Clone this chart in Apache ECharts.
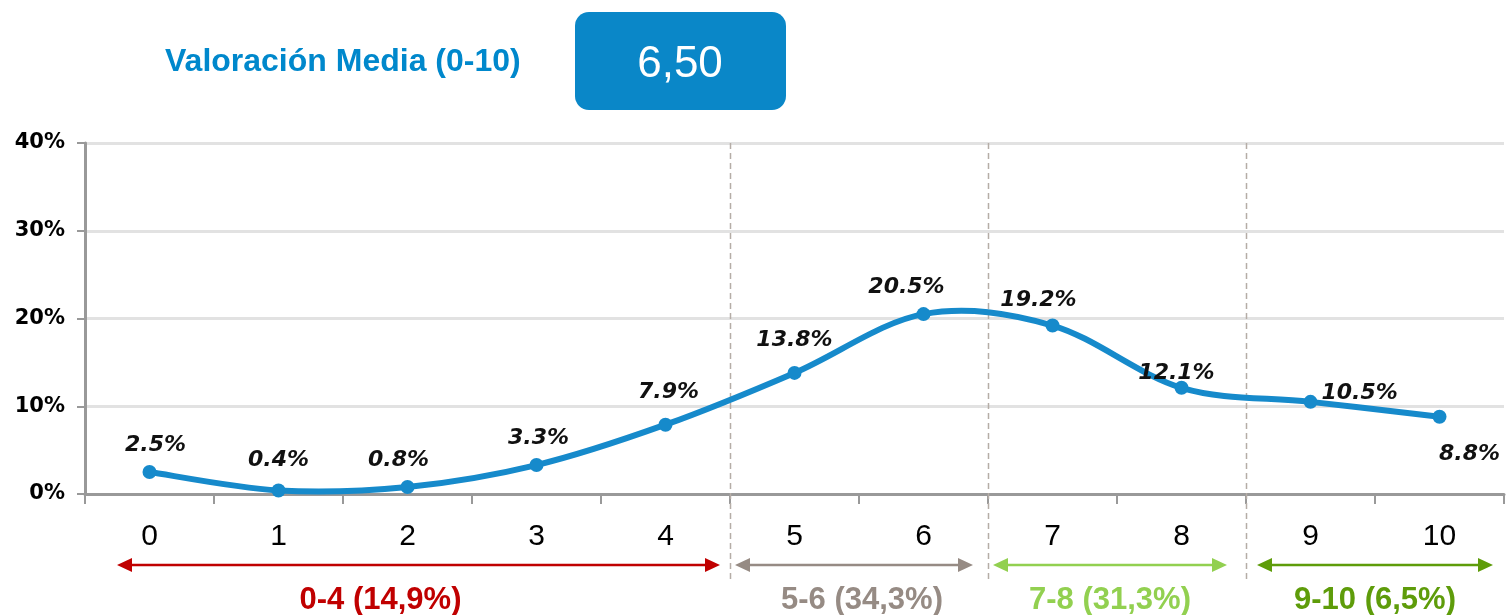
<!DOCTYPE html>
<html>
<head>
<meta charset="utf-8">
<script src="https://cdn.jsdelivr.net/npm/echarts@6/dist/echarts.min.js"></script>
<style>
html,body{margin:0;padding:0;background:#fff;}
#chart{width:1508px;height:615px;}
</style>
</head>
<body>
<div id="chart"></div>
<script>
// ---- data ----
const categories = ['0','1','2','3','4','5','6','7','8','9','10'];
const values = [2.5, 0.4, 0.8, 3.3, 7.9, 13.8, 20.5, 19.2, 12.1, 10.5, 8.8];
const yTicks = [0, 10, 20, 30, 40];
const titleText = 'Valoración Media (0-10)';
const meanText = '6,50';
const groupLabels = ['0-4 (14,9%)', '5-6 (34,3%)', '7-8 (31,3%)', '9-10 (6,5%)'];
const groupRanges = [[0, 4], [5, 6], [7, 8], [9, 10]];

// ---- styles ----
const groupColors = ['#C00000', '#968B84', '#92D050', '#5E9C0A'];
const arrowInsets = [[32, 10], [5, 15], [5, 19], [11, 11]];
const groupLabelShift = [-27, 3, -7, 0];
const labelPlacement = [
  {position: 'top', offset: [6, 0]},
  {position: 'top', offset: [0, -3]},
  {position: 'top', offset: [-9, 0]},
  {position: 'top', offset: [2, 0]},
  {position: 'top', offset: [3, -5]},
  {position: 'top', offset: [0, -6]},
  {position: 'top', offset: [-17, 0]},
  {position: 'top', offset: [-14, 2]},
  {position: 'top', offset: [-5, 12]},
  {position: 'right', offset: [-5, -9]},
  {position: 'bottom', offset: [30, 11]}
];
const lineColor = '#168ACB';

const chart = echarts.init(document.getElementById('chart'), null, {renderer: 'canvas'});

const seriesData = values.map((v, i) => ({
  value: v,
  label: {position: labelPlacement[i].position, offset: labelPlacement[i].offset}
}));
const curveData = values.map((v, i) => [i, v]);
const n = values.length;

// Catmull-Rom style smoothing (as in spreadsheet smoothed lines), drawn via axis coordinates
function renderCurve(params, api) {
  const i = params.dataIndex;
  if (i >= n - 1) return null;
  const p = k => {
    const kk = Math.max(0, Math.min(n - 1, k));
    return api.coord([api.value(0, kk), api.value(1, kk)]);
  };
  const p0 = p(i - 1), p1 = p(i), p2 = p(i + 1), p3 = p(i + 2);
  const t = 1 / 6;
  return {
    type: 'bezierCurve',
    shape: {
      x1: p1[0], y1: p1[1], x2: p2[0], y2: p2[1],
      cpx1: p1[0] + (p2[0] - p0[0]) * t, cpy1: p1[1] + (p2[1] - p0[1]) * t,
      cpx2: p2[0] - (p3[0] - p1[0]) * t, cpy2: p2[1] - (p3[1] - p1[1]) * t
    },
    style: {stroke: lineColor, lineWidth: 6, fill: 'none', lineCap: 'round'}
  };
}

chart.setOption({
  animation: false,
  backgroundColor: '#fff',
  grid: {left: 85, right: 4, top: 143, bottom: 121, containLabel: false},
  xAxis: {
    type: 'category',
    data: categories,
    boundaryGap: true,
    axisLine: {lineStyle: {color: '#999', width: 3}},
    axisTick: {show: true, length: 10, interval: 0, lineStyle: {color: '#999', width: 2}},
    axisLabel: {color: '#000', fontSize: 30, fontFamily: 'Liberation Sans, Arial, sans-serif', margin: 28},
    splitLine: {show: false}
  },
  yAxis: {
    type: 'value',
    min: yTicks[0],
    max: yTicks[yTicks.length - 1],
    interval: yTicks[1] - yTicks[0],
    axisLine: {show: true, lineStyle: {color: '#999', width: 3}},
    axisTick: {show: true, length: 8, lineStyle: {color: '#999', width: 2}},
    axisLabel: {color: '#000', fontSize: 21, fontWeight: 'bold', fontFamily: 'DejaVu Sans, sans-serif', margin: 20,
      formatter: v => v + '%'},
    splitLine: {show: true, lineStyle: {color: '#E2E2E2', width: 3}}
  },
  series: [{
    type: 'custom',
    data: curveData,
    encode: {x: 0, y: 1},
    renderItem: renderCurve,
    z: 4,
    silent: true
  }, {
    type: 'line',
    data: seriesData,
    symbol: 'circle',
    symbolSize: 14,
    lineStyle: {color: lineColor, width: 0, opacity: 0},
    itemStyle: {color: lineColor},
    z: 5,
    label: {
      show: true,
      distance: 9,
      formatter: p => p.value.toFixed(1) + '%',
      color: '#111',
      fontSize: 22,
      fontStyle: 'italic',
      fontWeight: 'bold',
      fontFamily: 'DejaVu Sans, sans-serif'
    }
  }]
});

function drawExtras() {
  const px = i => chart.convertToPixel({xAxisIndex: 0}, i);
  const band = px(1) - px(0);
  const left = i => px(i) - band / 2;
  const right = i => px(i) + band / 2;
  const yTop = chart.convertToPixel({yAxisIndex: 0}, yTicks[yTicks.length - 1]);
  const yAxis0 = chart.convertToPixel({yAxisIndex: 0}, 0);
  const els = [];

  // Title and mean box
  els.push({
    type: 'text', x: 165, y: 62,
    style: {text: titleText, fill: '#0088CC', font: 'bold 32px "Liberation Sans", Arial, sans-serif', verticalAlign: 'middle'}
  });
  els.push({
    type: 'rect', shape: {x: 575, y: 12, width: 211, height: 98, r: 14},
    style: {fill: '#0A87C8'}
  });
  els.push({
    type: 'text', x: 680, y: 65,
    style: {text: meanText, fill: '#fff', font: '44px "Liberation Sans", Arial, sans-serif', align: 'center', verticalAlign: 'middle'}
  });

  // dashed separators at group boundaries
  for (let g = 1; g < groupRanges.length; g++) {
    const x = Math.round(left(groupRanges[g][0])) + 0.5;
    els.push({
      type: 'line', z: 1,
      shape: {x1: x, y1: yTop, x2: x, y2: yAxis0 + 88},
      style: {stroke: '#B5ADA6', lineWidth: 1.5, lineDash: [6, 4]}
    });
  }

  // arrows and group labels
  const ay = yAxis0 + 71;
  groupRanges.forEach((r, g) => {
    const x1 = left(r[0]) + arrowInsets[g][0];
    const x2 = right(r[1]) - arrowInsets[g][1];
    const c = groupColors[g];
    const hl = 15, hh = 7;
    els.push({type: 'line', shape: {x1: x1 + hl - 2, y1: ay, x2: x2 - hl + 2, y2: ay}, style: {stroke: c, lineWidth: 2.5}});
    els.push({type: 'polygon', shape: {points: [[x1, ay], [x1 + hl, ay - hh], [x1 + hl, ay + hh]]}, style: {fill: c}});
    els.push({type: 'polygon', shape: {points: [[x2, ay], [x2 - hl, ay - hh], [x2 - hl, ay + hh]]}, style: {fill: c}});
    els.push({
      type: 'text', x: (left(r[0]) + right(r[1])) / 2 + groupLabelShift[g], y: yAxis0 + 106,
      style: {text: groupLabels[g], fill: c, font: 'bold 31px "Liberation Sans", Arial, sans-serif', align: 'center', verticalAlign: 'middle'}
    });
  });

  chart.setOption({graphic: {elements: els}});
}
drawExtras();
</script>
</body>
</html>
